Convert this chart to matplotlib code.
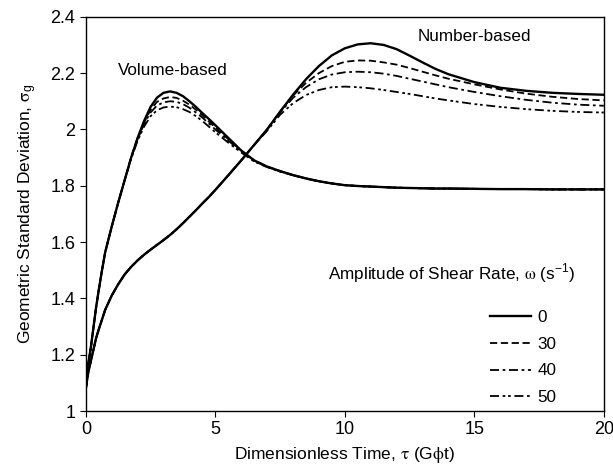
import matplotlib.pyplot as plt

plt.rcParams["font.family"] = ["Liberation Sans", "DejaVu Sans"]
plt.rcParams["mathtext.fontset"] = "stix"

# dimensionless time grid
tau = [0, 0.05, 0.1, 0.2, 0.3, 0.4, 0.5, 0.625, 0.75, 0.875, 1, 1.25, 1.5, 1.75, 2,
       2.25, 2.5, 2.75, 3, 3.25, 3.5, 3.75, 4, 4.25, 4.5, 4.75, 5, 5.5, 6, 6.5, 7,
       7.5, 8, 8.5, 9, 9.5, 10, 10.5, 11, 11.5, 12, 12.5, 13, 13.5, 14, 15, 16,
       17, 18, 19, 20]

# volume-based sigma_g
vol_0 = [1.08, 1.13, 1.17, 1.23, 1.30, 1.37, 1.43, 1.50, 1.565, 1.61, 1.655, 1.74, 1.82, 1.90, 1.97,
         2.03, 2.08, 2.113, 2.13, 2.135, 2.13, 2.118, 2.10, 2.08, 2.058, 2.037, 2.015, 1.97, 1.925, 1.89, 1.868,
         1.852, 1.838, 1.826, 1.816, 1.808, 1.802, 1.799, 1.797, 1.795, 1.793, 1.792, 1.791, 1.79, 1.79, 1.789, 1.788,
         1.788, 1.787, 1.787, 1.787]
vol_30 = [1.08, 1.13, 1.17, 1.23, 1.30, 1.37, 1.43, 1.50, 1.565, 1.61, 1.655, 1.74, 1.82, 1.90, 1.97,
          2.025, 2.07, 2.098, 2.11, 2.115, 2.112, 2.102, 2.088, 2.07, 2.05, 2.028, 2.007, 1.965, 1.925, 1.89, 1.868,
          1.852, 1.838, 1.826, 1.816, 1.808, 1.802, 1.799, 1.797, 1.795, 1.793, 1.792, 1.791, 1.79, 1.79, 1.789, 1.788,
          1.788, 1.787, 1.787, 1.787]
vol_40 = [1.08, 1.13, 1.17, 1.23, 1.30, 1.37, 1.43, 1.50, 1.565, 1.61, 1.655, 1.74, 1.82, 1.90, 1.965,
          2.02, 2.06, 2.085, 2.096, 2.10, 2.098, 2.09, 2.077, 2.06, 2.042, 2.021, 2.0, 1.96, 1.922, 1.888, 1.867,
          1.851, 1.837, 1.826, 1.816, 1.808, 1.802, 1.799, 1.797, 1.795, 1.793, 1.792, 1.791, 1.79, 1.79, 1.789, 1.788,
          1.788, 1.787, 1.787, 1.787]
vol_50 = [1.08, 1.13, 1.17, 1.23, 1.30, 1.37, 1.43, 1.50, 1.565, 1.61, 1.655, 1.74, 1.82, 1.895, 1.96,
          2.01, 2.047, 2.068, 2.078, 2.081, 2.079, 2.072, 2.062, 2.047, 2.03, 2.01, 1.99, 1.953, 1.918, 1.886, 1.866,
          1.85, 1.837, 1.825, 1.815, 1.808, 1.802, 1.799, 1.797, 1.795, 1.793, 1.792, 1.791, 1.79, 1.79, 1.789, 1.788,
          1.788, 1.787, 1.787, 1.787]

# number-based sigma_g
num_0 = [1.08, 1.11, 1.14, 1.18, 1.22, 1.26, 1.29, 1.325, 1.36, 1.385, 1.41, 1.45, 1.485, 1.512, 1.535,
         1.555, 1.573, 1.59, 1.607, 1.625, 1.645, 1.667, 1.69, 1.713, 1.737, 1.76, 1.785, 1.837, 1.89, 1.945, 2.0,
         2.063, 2.123, 2.178, 2.225, 2.263, 2.288, 2.302, 2.306, 2.30, 2.285, 2.262, 2.238, 2.215, 2.196, 2.168, 2.148,
         2.137, 2.13, 2.126, 2.123]
num_30 = [1.08, 1.11, 1.14, 1.18, 1.22, 1.26, 1.29, 1.325, 1.36, 1.385, 1.41, 1.45, 1.485, 1.512, 1.535,
          1.555, 1.573, 1.59, 1.607, 1.625, 1.645, 1.667, 1.69, 1.713, 1.737, 1.76, 1.785, 1.837, 1.89, 1.945, 2.0,
          2.063, 2.12, 2.165, 2.20, 2.225, 2.24, 2.245, 2.244, 2.238, 2.23, 2.218, 2.205, 2.192, 2.18, 2.16, 2.142,
          2.127, 2.116, 2.108, 2.103]
num_40 = [1.08, 1.11, 1.14, 1.18, 1.22, 1.26, 1.29, 1.325, 1.36, 1.385, 1.41, 1.45, 1.485, 1.512, 1.535,
          1.555, 1.573, 1.59, 1.607, 1.625, 1.645, 1.667, 1.69, 1.713, 1.737, 1.76, 1.785, 1.837, 1.89, 1.945, 2.0,
          2.06, 2.112, 2.15, 2.178, 2.195, 2.203, 2.205, 2.203, 2.198, 2.19, 2.18, 2.17, 2.16, 2.15, 2.133, 2.118,
          2.105, 2.095, 2.088, 2.084]
num_50 = [1.08, 1.11, 1.14, 1.18, 1.22, 1.26, 1.29, 1.325, 1.36, 1.385, 1.41, 1.45, 1.485, 1.512, 1.535,
          1.555, 1.573, 1.59, 1.607, 1.625, 1.645, 1.667, 1.69, 1.713, 1.737, 1.76, 1.785, 1.837, 1.89, 1.945, 1.995,
          2.052, 2.093, 2.122, 2.14, 2.15, 2.152, 2.15, 2.146, 2.14, 2.133, 2.126, 2.118, 2.11, 2.103, 2.09, 2.08,
          2.072, 2.066, 2.062, 2.06]

omega_labels = ["0", "30", "40", "50"]
styles = ["-", (0, (4, 2)), (0, (5, 2, 1.5, 2)), (0, (5, 2, 1.5, 1.5, 1.5, 2))]
widths = [1.7, 1.3, 1.3, 1.3]

fig = plt.figure(figsize=(6.13, 4.66), dpi=100)
ax = fig.add_axes([0.140, 0.118, 0.845, 0.846])

vol = [vol_0, vol_30, vol_40, vol_50]
num = [num_0, num_30, num_40, num_50]
for v, n, lab, ls, lw in zip(vol, num, omega_labels, styles, widths):
    ax.plot(tau, v, color="black", linestyle=ls, linewidth=lw, label=lab)
    ax.plot(tau, n, color="black", linestyle=ls, linewidth=lw)

ax.set_xlim(0, 20)
ax.set_ylim(1, 2.4)
ax.set_xticks([0, 5, 10, 15, 20])
ax.set_yticks([1, 1.2, 1.4, 1.6, 1.8, 2, 2.2, 2.4])
ax.set_yticklabels(["1", "1.2", "1.4", "1.6", "1.8", "2", "2.2", "2.4"])
ax.tick_params(direction="out", length=4, width=0.8, labelsize=13)
for s in ax.spines.values():
    s.set_linewidth(1.0)

ax.set_xlabel(r"Dimensionless Time, $\mathrm{\tau}$ (G$\mathrm{\phi}$t)", fontsize=12.5, labelpad=5)
ax.set_ylabel(r"Geometric Standard Deviation, $\mathrm{\sigma}_{\mathregular{g}}$", fontsize=12.5, labelpad=8)

ax.text(1.24, 2.21, "Volume-based", fontsize=12.3, va="center")
ax.text(12.8, 2.33, "Number-based", fontsize=12.3, va="center")
ax.text(9.34, 1.49, r"Amplitude of Shear Rate, $\mathrm{\omega}$ (s$^{\mathregular{-1}}$)", fontsize=12.3, va="center")

ax.legend(loc="lower left", bbox_to_anchor=(0.78, 0.015), frameon=False, fontsize=12.3,
          borderpad=0, borderaxespad=0, handlelength=2.4, handletextpad=0.4, labelspacing=0.68)

fig.savefig("out.png", dpi=100)
